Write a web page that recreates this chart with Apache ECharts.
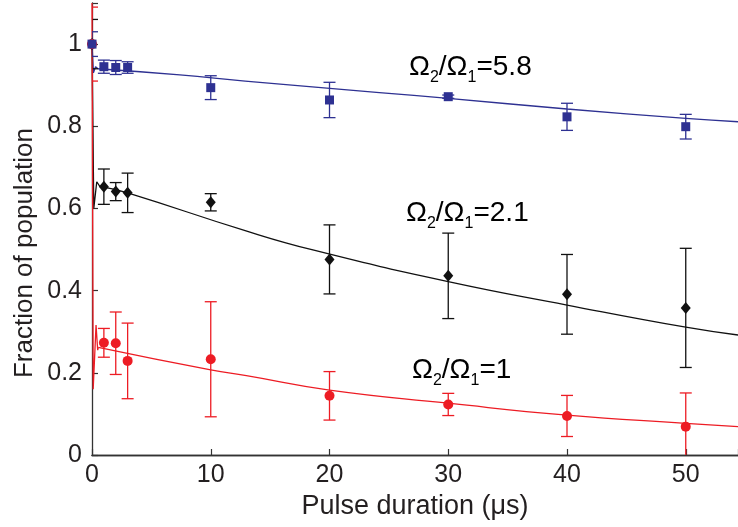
<!DOCTYPE html>
<html><head><meta charset="utf-8">
<script src="https://cdn.jsdelivr.net/npm/echarts@6/dist/echarts.min.js"></script>
<style>html,body{margin:0;padding:0;background:#fff}#c{width:738px;height:527px}</style>
</head><body><div id="c"></div>
<script>
// ---- data ----
const times = [0, 1, 2, 3, 10, 20, 30, 40, 50];
const blueVals  = [1.0, 0.945, 0.943, 0.943, 0.894, 0.864, 0.872, 0.823, 0.799];
const blueErr   = [0.03, 0.016, 0.017, 0.014, 0.029, 0.043, 0.004, 0.033, 0.030];
const blackVals = [1.0, 0.653, 0.641, 0.638, 0.615, 0.476, 0.436, 0.391, 0.358];
const blackErr  = [0.06, 0.043, 0.022, 0.048, 0.021, 0.084, 0.104, 0.097, 0.145];
const redVals   = [1.0, 0.273, 0.272, 0.229, 0.233, 0.144, 0.123, 0.095, 0.069];
const redErr    = [0.09, 0.035, 0.076, 0.092, 0.140, 0.059, 0.027, 0.050, 0.082];

// fit curves: fast initial part and slow part
const blueSpikeT  = [0, 0.12, 0.3, 0.5];
const blueSpikeV  = [1.0, 0.93, 0.945, 0.94];
const blueFitT    = [0.5, 7.4, 12.9, 24.2, 30, 40, 50, 54.4];
const blueFitV    = [0.94, 0.925, 0.910, 0.882, 0.868, 0.842, 0.819, 0.811];
const blackSpikeT = [0, 0.15, 0.4, 0.67, 1];
const blackSpikeV = [1.0, 0.60, 0.665, 0.653, 0.652];
const blackFitT   = [1, 3, 12.9, 18.6, 30, 40, 50, 54.4];
const blackFitV   = [0.652, 0.638, 0.546, 0.499, 0.422, 0.365, 0.311, 0.292];
const redSpikeT   = [0, 0.1, 0.34, 0.48, 0.53];
const redSpikeV   = [1.1, 0.16, 0.316, 0.255, 0.262];
const redFitT     = [0.53, 10, 13, 20, 30, 40, 50, 54.4];
const redFitV     = [0.262, 0.207, 0.193, 0.158, 0.126, 0.097, 0.077, 0.069];

const xTicks = [0, 10, 20, 30, 40, 50];
const yTicks = [0, 0.2, 0.4, 0.6, 0.8, 1];

const FONT = "'Liberation Sans', Arial, Helvetica, sans-serif";
const TXT = '#231f20';
const BLUE = '#2e3192', BLACK = '#111111', RED = '#ed1c24';

const zip = (a, b) => a.map((v, i) => [v, b[i]]);

function errSeries(vals, errs, color, z) {
  return {
    type: 'custom', clip: true, z: z, silent: true,
    data: times.map((t, i) => [t, vals[i] - errs[i], vals[i] + errs[i]]),
    encode: { x: 0, y: [1, 2] },
    renderItem(params, api) {
      const x = api.value(0);
      const lo = api.coord([x, api.value(1)]);
      const hi = api.coord([x, api.value(2)]);
      const hw = 6;
      const st = { stroke: color, lineWidth: 1.3 };
      return { type: 'group', children: [
        { type: 'line', shape: { x1: lo[0], y1: lo[1], x2: hi[0], y2: hi[1] }, style: st },
        { type: 'line', shape: { x1: lo[0] - hw, y1: lo[1], x2: lo[0] + hw, y2: lo[1] }, style: st },
        { type: 'line', shape: { x1: hi[0] - hw, y1: hi[1], x2: hi[0] + hw, y2: hi[1] }, style: st }
      ]};
    }
  };
}
function lineSeries(t, v, color, smooth, z) {
  return { type: 'line', data: zip(t, v), showSymbol: false, smooth: smooth, z: z, silent: true,
    lineStyle: { color: color, width: 1.3 }, itemStyle: { color: color } };
}
function scatterSeries(vals, color, symbol, size, z) {
  return { type: 'scatter', data: zip(times, vals), symbol: symbol, symbolSize: size, z: z,
    itemStyle: { color: color, opacity: 1 } };
}

const rich = {
  a: { fontFamily: FONT, fontSize: 28, lineHeight: 30, color: TXT, verticalAlign: 'top' },
  s: { fontFamily: FONT, fontSize: 16, lineHeight: 16, color: TXT, padding: [17, 0, 0, 0], verticalAlign: 'top' }
};
function label(x, y, val) {
  return { type: 'text', x: x, y: y, style: {
    text: '{a|Ω}{s|2}{a|/Ω}{s|1}{a|=' + val + '}', rich: rich,
    textAlign: 'left', textVerticalAlign: 'middle', verticalAlign: 'middle' } };
}

const chart = echarts.init(document.getElementById('c'), null, { renderer: 'canvas' });
chart.setOption({
  animation: false,
  backgroundColor: '#fff',
  grid: { left: 92, right: 0, top: 3, bottom: 72, containLabel: false },
  xAxis: [{
    type: 'value', min: 0, max: 54.4, interval: 10,
    name: 'Pulse duration (μs)', nameLocation: 'middle', nameGap: 37,
    nameTextStyle: { fontFamily: FONT, fontSize: 27, color: TXT },
    axisLine: { onZero: false, lineStyle: { color: '#333', width: 1.3 } },
    axisTick: { inside: true, length: 6, lineStyle: { color: '#333', width: 1.2 } },
    axisLabel: { fontFamily: FONT, fontSize: 25, color: TXT, margin: 8,
      customValues: xTicks, formatter: v => String(v) },
    splitLine: { show: false }
  }, {
    type: 'value', position: 'top', min: 0, max: 54.4,
    axisLine: { show: true, lineStyle: { color: '#333', width: 1.3 } },
    axisTick: { show: false }, axisLabel: { show: false }, splitLine: { show: false }
  }],
  yAxis: {
    type: 'value', min: 0, max: 1.1, interval: 0.2,
    axisLine: { show: true, onZero: false, lineStyle: { color: '#333', width: 1.3 } },
    axisTick: { inside: true, length: 6, lineStyle: { color: '#333', width: 1.2 } },
    axisLabel: { fontFamily: FONT, fontSize: 25, color: TXT, margin: 10,
      customValues: yTicks, formatter: v => String(Math.round(v * 10) / 10) },
    splitLine: { show: false }
  },
  graphic: [
    { type: 'text', x: 25, y: 253, rotation: Math.PI / 2, style: {
      text: 'Fraction of population', fontFamily: FONT, fontSize: 26, fill: TXT,
      textAlign: 'center', textVerticalAlign: 'middle', align: 'center', verticalAlign: 'middle' } },
    label(409, 68, '5.8'),
    label(406, 214, '2.1'),
    label(412, 371, '1')
  ],
  series: [
    lineSeries(blueSpikeT, blueSpikeV, BLUE, false, 2),
    lineSeries(blueFitT, blueFitV, BLUE, true, 2),
    lineSeries(blackSpikeT, blackSpikeV, BLACK, false, 2),
    lineSeries(blackFitT, blackFitV, BLACK, true, 2),
    lineSeries(redSpikeT, redSpikeV, RED, false, 3),
    lineSeries(redFitT, redFitV, RED, true, 3),
    errSeries(blackVals, blackErr, BLACK, 4),
    errSeries(redVals, redErr, RED, 4),
    errSeries(blueVals, blueErr, BLUE, 4),
    scatterSeries(blackVals, BLACK, 'diamond', [10, 12], 5),
    scatterSeries(redVals, RED, 'circle', 10, 5),
    scatterSeries(blueVals, BLUE, 'rect', 9, 6)
  ]
});
</script></body></html>
